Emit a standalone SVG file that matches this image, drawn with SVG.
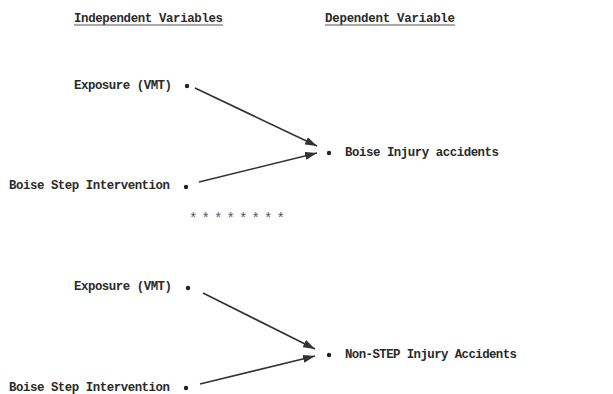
<svg xmlns="http://www.w3.org/2000/svg" width="613" height="394" viewBox="0 0 613 394">
<style>
text{font-family:"Liberation Mono","DejaVu Sans Mono",monospace;font-size:12.4px;fill:#2a2a2a;font-weight:bold}
.dot{fill:#222}
.c{stroke:#333;stroke-width:1.6;fill:none}
</style>
<defs>
<marker id="ah" viewBox="0 0 12 8" refX="12" refY="4" markerWidth="12" markerHeight="8" markerUnits="userSpaceOnUse" orient="auto">
<path d="M0,0 L12,4 L0,8 Z" fill="#333"/>
</marker>
</defs>
<rect width="613" height="394" fill="#fff"/>
<g id="headers">
<text x="74" y="22" textLength="149">Independent Variables</text>
<line x1="74" y1="25" x2="223" y2="25" stroke="#555" stroke-width="1"/>
<text x="325" y="22" textLength="130">Dependent Variable</text>
<line x1="325" y1="25" x2="455" y2="25" stroke="#555" stroke-width="1"/>
</g>
<g id="exposure1">
<text x="74" y="89" textLength="98">Exposure (VMT)</text>
<circle class="dot" cx="187" cy="86" r="2.2"/>
</g>
<g id="boise1">
<text x="9" y="189" textLength="161">Boise Step Intervention</text>
<circle class="dot" cx="186" cy="187" r="2.2"/>
</g>
<g id="target1">
<circle class="dot" cx="329" cy="153" r="2.2"/>
<text x="345" y="156" textLength="154">Boise Injury accidents</text>
</g>
<g id="stars">
<text x="189" y="223" textLength="96" style="font-weight:normal;font-size:14px;fill:#555">********</text>
</g>
<g id="exposure2">
<text x="74" y="290" textLength="98">Exposure (VMT)</text>
<circle class="dot" cx="188" cy="288" r="2.2"/>
</g>
<g id="boise2">
<text x="9" y="391" textLength="161">Boise Step Intervention</text>
<circle class="dot" cx="186" cy="388" r="2.2"/>
</g>
<g id="target2">
<circle class="dot" cx="329" cy="355" r="2.2"/>
<text x="345" y="358" textLength="172">Non-STEP Injury Accidents</text>
</g>
<g id="connectors">
<line class="c" x1="195" y1="88" x2="317" y2="146" marker-end="url(#ah)"/>
<line class="c" x1="199" y1="182" x2="317" y2="153" marker-end="url(#ah)"/>
<line class="c" x1="203" y1="293" x2="315" y2="349" marker-end="url(#ah)"/>
<line class="c" x1="200" y1="384" x2="315" y2="356" marker-end="url(#ah)"/>
</g>
</svg>
